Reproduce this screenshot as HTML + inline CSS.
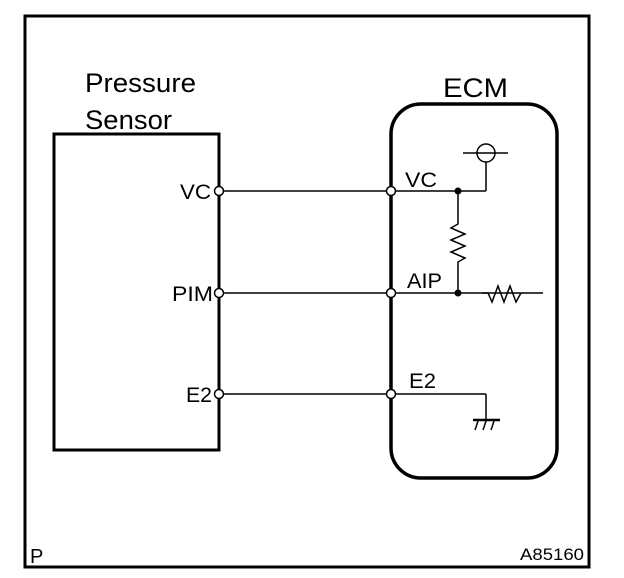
<!DOCTYPE html>
<html><head><style>
html,body{margin:0;padding:0;background:#fff;}
svg{display:block;font-family:"Liberation Sans",sans-serif;}
</style></head><body>
<svg width="624" height="578" viewBox="0 0 624 578" xmlns="http://www.w3.org/2000/svg">
<rect x="25" y="16" width="564" height="551" fill="none" stroke="#000" stroke-width="3"/>
<text x="85" y="92" font-size="27" textLength="111" lengthAdjust="spacingAndGlyphs">Pressure</text>
<text x="85" y="129" font-size="27" textLength="87" lengthAdjust="spacingAndGlyphs">Sensor</text>
<rect x="54" y="134" width="165" height="316" fill="none" stroke="#000" stroke-width="3"/>
<text x="443" y="97" font-size="27" textLength="65" lengthAdjust="spacingAndGlyphs">ECM</text>
<rect x="391" y="104" width="166" height="374" rx="30" ry="30" fill="none" stroke="#000" stroke-width="3.5"/>
<g stroke="#000" stroke-width="1.5" fill="none">
<line x1="219" y1="191" x2="486" y2="191"/>
<line x1="219" y1="293" x2="543" y2="293"/>
<line x1="219" y1="394" x2="486" y2="394"/>
<line x1="486" y1="191" x2="486" y2="162"/>
<circle cx="486" cy="153" r="9"/>
<line x1="463" y1="153" x2="508" y2="153"/>
<polyline points="458,191 458,224 451,228 465,234 451,240 465,246 451,252 465,258 458,262 458,293"/>
<line x1="486" y1="394" x2="486" y2="420"/>
<line x1="473" y1="420" x2="500" y2="420" stroke-width="2.5"/>
<line x1="478" y1="421" x2="475" y2="430"/><line x1="486" y1="421" x2="483" y2="430"/><line x1="494" y1="421" x2="491" y2="430"/>
</g>
<polyline points="482,293 488,293 492,302 498,286 504,302 510,286 516,302 521,293" fill="none" stroke="#000" stroke-width="1.5"/>
<g fill="#000"><circle cx="458" cy="191" r="3.5"/><circle cx="458" cy="293" r="3.5"/></g>
<g fill="#fff" stroke="#000" stroke-width="1.5">
<circle cx="219" cy="191" r="4.5"/><circle cx="219" cy="293" r="4.5"/><circle cx="219" cy="394" r="4.5"/>
<circle cx="391" cy="191" r="4.5"/><circle cx="391" cy="293" r="4.5"/><circle cx="391" cy="394" r="4.5"/>
</g>
<g font-size="21">
<text x="180" y="199" textLength="31" lengthAdjust="spacingAndGlyphs">VC</text>
<text x="172" y="301" textLength="41" lengthAdjust="spacingAndGlyphs">PIM</text>
<text x="186" y="402" textLength="26" lengthAdjust="spacingAndGlyphs">E2</text>
<text x="405" y="187" textLength="32" lengthAdjust="spacingAndGlyphs">VC</text>
<text x="407" y="288" textLength="35" lengthAdjust="spacingAndGlyphs">AIP</text>
<text x="409" y="388" textLength="27" lengthAdjust="spacingAndGlyphs">E2</text>
</g>
<text x="30" y="563" font-size="20">P</text>
<text x="520" y="560" font-size="17" textLength="64" lengthAdjust="spacingAndGlyphs">A85160</text>
</svg>
</body></html>
